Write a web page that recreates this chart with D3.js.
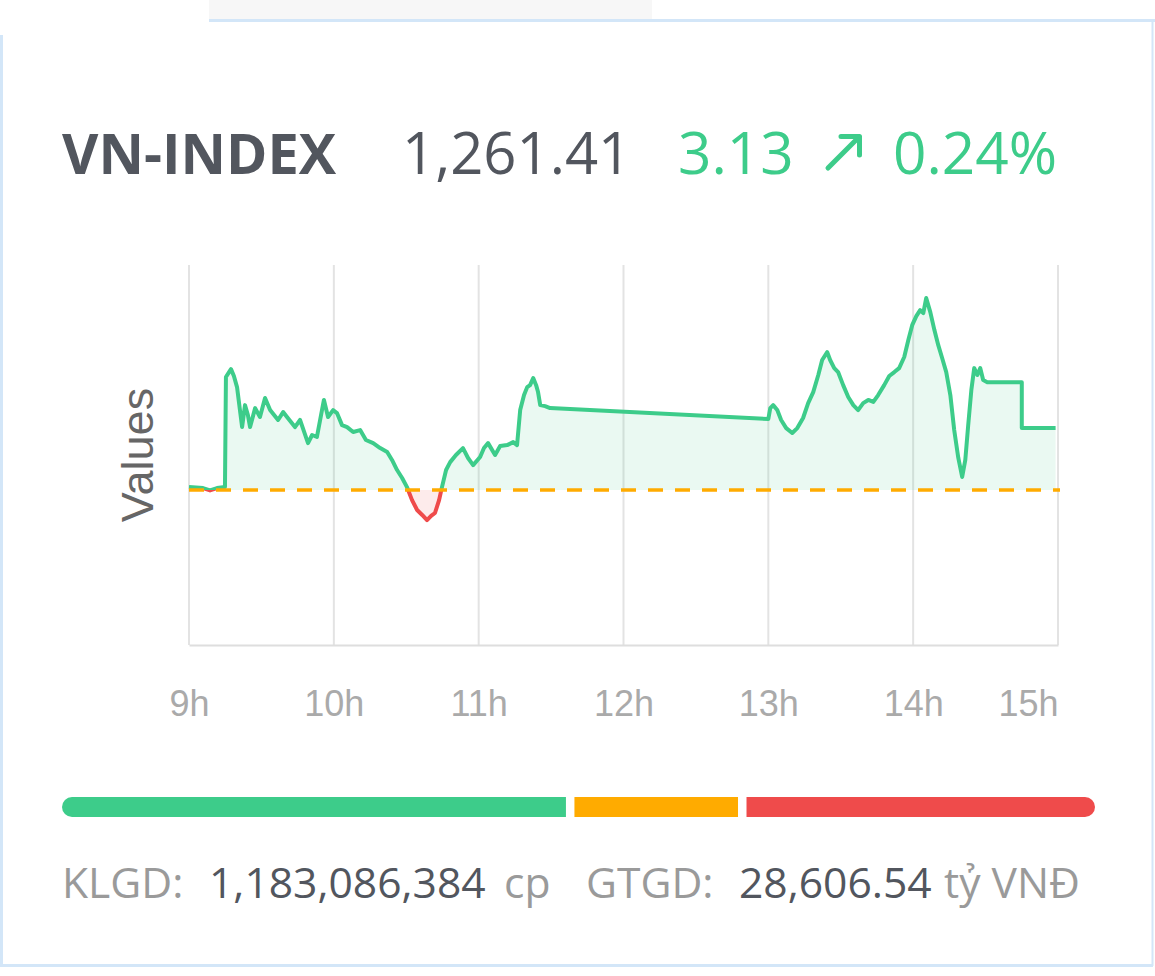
<!DOCTYPE html>
<html>
<head>
<meta charset="utf-8">
<script src="https://cdn.jsdelivr.net/npm/d3@7"></script>
<style>
  html, body { margin: 0; padding: 0; background: #fff; }
  svg { display: block; }
</style>
</head>
<body>
<svg id="chart" width="1155" height="976"></svg>
<script>
// ---------- DATA ----------
const indexName = "VN-INDEX";
const indexValue = "1,261.41";
const indexChange = "3.13";
const indexChangePct = "0.24%";
const referenceValue = 1258.28;

// minutes after 9:00
const times = [0, 5.8, 8.7, 11.6, 14.9, 15.3, 16.6, 17.4, 18.6, 19.9, 21.1, 22.0, 23.2, 24.4, 25.3, 27.4, 29.4, 31.5, 33.6, 36.9,
  39.0, 40.6, 43.9, 46.0, 49.3, 51.0, 53.0, 54.7, 55.9, 57.6, 59.7, 61.3, 63.4, 65.5, 68.0, 70.9, 73.3, 76.3, 79.2, 82.1,
  84.1, 86.2, 88.3, 90.3, 92.4, 94.5, 96.6, 98.6, 100.3, 101.9, 103.6, 104.8, 106.5, 108.2, 110.6, 113.5, 115.6, 117.7, 120.6, 122.2,
  123.9, 126.8, 128.9, 131.8, 134.3, 135.9, 137.2, 138.8, 140.1, 141.3, 142.6, 143.8, 144.6, 145.5, 147.5, 149.6,
  240.0, 240.8, 242.0, 243.7, 245.3, 247.4, 249.9, 252.0, 254.4, 256.5, 258.6, 260.7, 262.3, 264.4, 265.6, 267.3, 268.9, 271.0,
  273.1, 275.2, 277.2, 279.3, 281.4, 283.5, 285.5, 288.0, 290.1, 292.2, 294.2, 296.3, 298.0, 299.6, 301.3, 302.9, 304.2, 305.4,
  307.1, 308.8, 310.4, 312.0, 313.7, 315.4, 317.0, 318.7, 320.3, 321.6, 322.8, 324.1, 325.3, 326.6, 327.8, 329.0, 330.7,
  345.0, 345.0, 359.0];
const values = [1258.43, 1258.38, 1258.26, 1258.38, 1258.43, 1263.99, 1264.24, 1264.39, 1264.04, 1263.48, 1262.32, 1261.46, 1262.57, 1262.07, 1261.46, 1262.42, 1261.97, 1262.93, 1262.32, 1261.82,
  1262.22, 1261.97, 1261.46, 1261.82, 1260.65, 1261.06, 1260.96, 1262.07, 1262.83, 1261.97, 1262.32, 1262.17, 1261.56, 1261.46, 1261.21, 1261.31, 1260.81, 1260.65, 1260.40, 1260.20,
  1259.80, 1259.29, 1258.89, 1258.43, 1257.77, 1257.27, 1257.02, 1256.76, 1256.97, 1257.12, 1257.77, 1258.43, 1259.29, 1259.69, 1260.05, 1260.40, 1259.90, 1259.54, 1259.95, 1260.40,
  1260.65, 1260.05, 1260.50, 1260.55, 1260.70, 1260.55, 1262.32, 1263.08, 1263.48, 1263.58, 1263.94, 1263.58, 1263.23, 1262.57, 1262.52, 1262.42,
  1261.87, 1262.42, 1262.57, 1262.32, 1261.82, 1261.41, 1261.16, 1261.41, 1261.92, 1262.67, 1263.23, 1264.09, 1264.85, 1265.25, 1264.85, 1264.44, 1264.24, 1263.58,
  1262.98, 1262.57, 1262.32, 1262.67, 1262.83, 1262.73, 1263.08, 1263.58, 1264.04, 1264.24, 1264.44, 1265.00, 1265.86, 1266.61, 1267.07, 1267.37, 1267.22, 1267.98,
  1267.27, 1266.36, 1265.60, 1264.95, 1264.24, 1263.08, 1261.31, 1259.90, 1258.94, 1259.80, 1261.56, 1263.33, 1264.44, 1264.09, 1264.44, 1263.84, 1263.73,
  1263.73, 1261.41, 1261.41];

const tickHours = [9, 10, 11, 12, 13, 14, 15];
const tickLabels = ["9h", "10h", "11h", "12h", "13h", "14h", "15h"];
const yDomain = [1250.45, 1269.65];

// market breadth shares (advancing / unchanged / declining), percent
const breadthLabels = ["up", "unchanged", "down"];
const breadthShares = [49.6, 16.1, 34.3];

const volumeLabel = "KLGD:";
const volumeValue = "1,183,086,384";
const volumeUnit = "cp";
const valueLabel = "GTGD:";
const valueValue = "28,606.54";
const valueUnit = "tỷ VNĐ";

(function () {
// ---------- STYLE ----------
const GREEN = "#3dcc8a", RED = "#ef4b4b", ORANGE = "#ffab00";
const DARK = "#52565e", GRAY = "#9a9a9a";

const svg = d3.select("#chart");

// card frame
svg.append("rect").attr("x", 209).attr("y", 0).attr("width", 443).attr("height", 20).attr("fill", "#f7f7f7");
const border = "#d3e6f8";
svg.append("line").attr("x1", 209).attr("x2", 1155).attr("y1", 20.5).attr("y2", 20.5).attr("stroke", border).attr("stroke-width", 3);
svg.append("line").attr("x1", 1.5).attr("x2", 1.5).attr("y1", 35).attr("y2", 966).attr("stroke", border).attr("stroke-width", 3);
svg.append("line").attr("x1", 1152.5).attr("x2", 1152.5).attr("y1", 20).attr("y2", 966).attr("stroke", border).attr("stroke-width", 2);
svg.append("line").attr("x1", 0).attr("x2", 1153).attr("y1", 965.5).attr("y2", 965.5).attr("stroke", border).attr("stroke-width", 3);

// header
const hdr = svg.append("g").attr("font-family", "'Open Sans', sans-serif");
hdr.append("text").attr("x", 62).attr("y", 174).attr("font-size", 56).attr("font-weight", 700).attr("fill", DARK).text(indexName);
hdr.append("text").attr("x", 402).attr("y", 174).attr("font-size", 58).attr("fill", DARK).text(indexValue);
hdr.append("text").attr("x", 678).attr("y", 174).attr("font-size", 58.5).attr("fill", GREEN).text(indexChange);
hdr.append("path").attr("d", "M828,168 L858,138 M841,136.5 L859.5,136.5 L859.5,155").attr("stroke", GREEN)
  .attr("stroke-width", 5).attr("fill", "none").attr("stroke-linecap", "round").attr("stroke-linejoin", "round");
hdr.append("text").attr("x", 893).attr("y", 174).attr("font-size", 58.5).attr("fill", GREEN).text(indexChangePct);

// chart
const pLeft = 189, pRight = 1058, pTop = 265, pBottom = 645;
const x = d3.scaleLinear().domain([9, 15]).range([pLeft, pRight]);
const y = d3.scaleLinear().domain(yDomain).range([pBottom, pTop]);
const data = times.map((t, i) => ({ h: 9 + t / 60, v: values[i] }));
const yRef = y(referenceValue);

// gridlines
svg.append("g").selectAll("line").data(tickHours).join("line")
  .attr("x1", d => x(d)).attr("x2", d => x(d)).attr("y1", pTop).attr("y2", pBottom)
  .attr("stroke", "#e3e3e3").attr("stroke-width", 2);

const xAxis = d3.axisBottom(x).tickValues(tickHours).tickSize(0).tickPadding(0)
  .tickFormat((d, i) => tickLabels[i]);
const ax = svg.append("g").attr("transform", `translate(0,${pBottom})`).call(xAxis);
ax.select(".domain").attr("stroke", "#dedede").attr("stroke-width", 2);
ax.selectAll("text").attr("font-family", "'Liberation Sans', Arial, sans-serif").attr("font-size", 36)
  .attr("fill", "#aaaaaa").attr("dy", 0).attr("y", 71)
  .attr("text-anchor", (d, i) => i === tickHours.length - 1 ? "end" : "middle");

// y title
svg.append("text").attr("transform", `translate(153,${(pTop + pBottom) / 2}) rotate(-90)`)
  .attr("text-anchor", "middle").attr("font-family", "'Liberation Sans', Arial, sans-serif")
  .attr("font-size", 45).attr("fill", "#666").text("Values");

// clips
const defs = svg.append("defs");
defs.append("clipPath").attr("id", "above").append("rect").attr("x", 0).attr("y", 0).attr("width", 1155).attr("height", yRef);
defs.append("clipPath").attr("id", "below").append("rect").attr("x", 0).attr("y", yRef).attr("width", 1155).attr("height", 976 - yRef);

const area = d3.area().x(d => x(d.h)).y0(yRef).y1(d => y(d.v));
const line = d3.line().x(d => x(d.h)).y(d => y(d.v));

svg.append("path").datum(data).attr("d", area).attr("fill", "rgba(61,204,138,0.11)").attr("clip-path", "url(#above)");
svg.append("path").datum(data).attr("d", area).attr("fill", "rgba(239,75,75,0.11)").attr("clip-path", "url(#below)");
svg.append("path").datum(data).attr("d", line).attr("fill", "none").attr("stroke", GREEN).attr("stroke-width", 4)
  .attr("stroke-linejoin", "round").attr("clip-path", "url(#above)");
svg.append("path").datum(data).attr("d", line).attr("fill", "none").attr("stroke", RED).attr("stroke-width", 4)
  .attr("stroke-linejoin", "round").attr("clip-path", "url(#below)");

// reference line
svg.append("line").attr("x1", pLeft).attr("x2", pRight + 2).attr("y1", yRef).attr("y2", yRef)
  .attr("stroke", ORANGE).attr("stroke-width", 3.5).attr("stroke-dasharray", "15,12");

// breadth bar
const barX0 = 62, barX1 = 1095, gap = 8.5;
const totalW = barX1 - barX0 - gap * (breadthShares.length - 1);
const bx = d3.scaleLinear().domain([0, d3.sum(breadthShares)]).range([0, totalW]);
const barColors = [GREEN, ORANGE, RED];
let acc = 0;
const segs = breadthShares.map((s, i) => {
  const x0 = barX0 + bx(acc) + gap * i;
  acc += s;
  return { x0, w: bx(s), c: barColors[i], i };
});
const barY = 797, barH = 20;
defs.append("clipPath").attr("id", "barclip").append("rect").attr("x", barX0).attr("y", barY)
  .attr("width", barX1 - barX0).attr("height", barH).attr("rx", 10).attr("ry", 10);
svg.append("g").attr("clip-path", "url(#barclip)").selectAll("rect").data(segs).join("rect")
  .attr("x", d => d.x0).attr("y", barY).attr("width", d => d.w).attr("height", barH).attr("fill", d => d.c);

// footer
const ft = svg.append("g").attr("font-family", "'Open Sans', sans-serif").attr("font-size", 42.6);
ft.append("text").attr("x", 62).attr("y", 898).attr("fill", GRAY).text(volumeLabel);
ft.append("text").attr("x", 209).attr("y", 898).attr("fill", DARK).text(volumeValue);
ft.append("text").attr("x", 504).attr("y", 898).attr("fill", GRAY).text(volumeUnit);
ft.append("text").attr("x", 586).attr("y", 898).attr("fill", GRAY).text(valueLabel);
ft.append("text").attr("x", 739).attr("y", 898).attr("fill", DARK).text(valueValue);
ft.append("text").attr("x", 944).attr("y", 898).attr("fill", GRAY).text(valueUnit);
})();
</script>
</body>
</html>
